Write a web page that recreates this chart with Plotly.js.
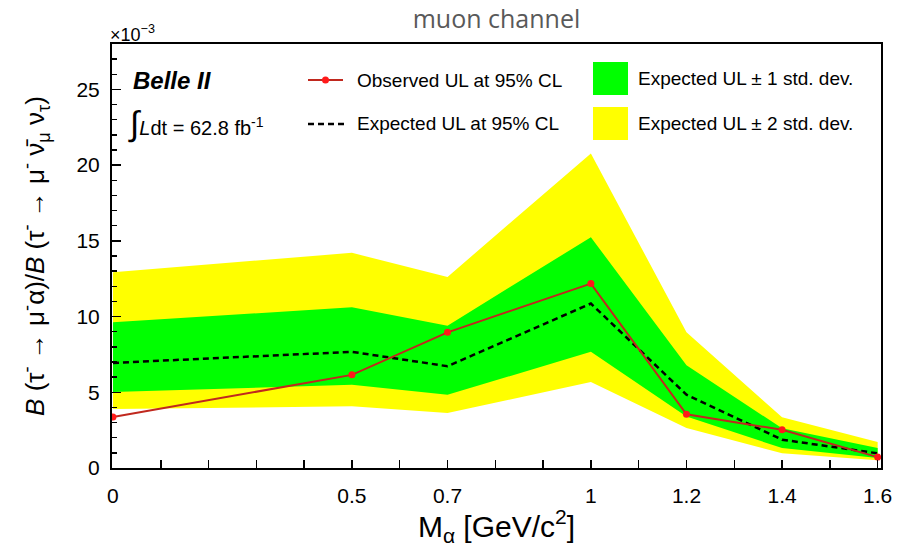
<!DOCTYPE html>
<html>
<head>
<meta charset="utf-8">
<script src="https://cdn.plot.ly/plotly-3.0.1.min.js"></script>
<style>html,body{margin:0;padding:0;background:#fff;}#chart{width:907px;height:547px;}</style>
</head>
<body>
<div id="chart"></div>
<script>
// ---- data (values in units of 1e-3) ----
const mass      = [0, 0.5, 0.7, 1.0, 1.2, 1.4, 1.6];
const observed  = [3.37, 6.15, 8.96, 12.18, 3.55, 2.52, 0.72];
const expected  = [6.94, 7.67, 6.72, 10.86, 4.84, 1.87, 0.97];
const sig1Up    = [9.62, 10.61, 9.40, 15.24, 6.78, 2.62, 1.32];
const sig1Down  = [5.02, 5.50, 4.84, 7.67, 3.40, 1.32, 0.66];
const sig2Up    = [12.93, 14.21, 12.62, 20.77, 8.96, 3.35, 1.72];
const sig2Down  = [3.90, 4.07, 3.63, 5.68, 2.64, 0.98, 0.52];

const xTickVals = [0, 0.5, 0.7, 1.0, 1.2, 1.4, 1.6];
const xTickText = ['0', '0.5', '0.7', '1', '1.2', '1.4', '1.6'];

const legendLabels = ['Observed UL at 95% CL', 'Expected UL at 95% CL',
                      'Expected UL \u00b1 1 std. dev.', 'Expected UL \u00b1 2 std. dev.'];

// ---- styles ----
const FONT = 'Liberation Sans, Arial, sans-serif';
const GREEN = '#00ff00', YELLOW = '#ffff00', RED = '#ff1a1a', REDLINE = '#c0281e';

const traces = [
  {x: mass, y: sig2Down, mode: 'lines', line: {width: 0, color: YELLOW}, showlegend: false, hoverinfo: 'skip'},
  {x: mass, y: sig2Up, mode: 'lines', line: {width: 0, color: YELLOW}, fill: 'tonexty', fillcolor: YELLOW,
   name: legendLabels[3], showlegend: false},
  {x: mass, y: sig1Down, mode: 'lines', line: {width: 0, color: GREEN}, showlegend: false, hoverinfo: 'skip'},
  {x: mass, y: sig1Up, mode: 'lines', line: {width: 0, color: GREEN}, fill: 'tonexty', fillcolor: GREEN,
   name: legendLabels[2], showlegend: false},
  {x: mass, y: expected, mode: 'lines', line: {color: '#000', width: 2.5, dash: '6px,4px'},
   name: legendLabels[1], showlegend: false},
  {x: mass, y: observed, mode: 'lines+markers', line: {color: REDLINE, width: 2},
   marker: {color: RED, size: 7}, name: legendLabels[0], showlegend: false}
];

// plot area in pixels: x 112..881, y 44..468
const L = 112, R = 881, T = 44, B = 468;
const px = v => (v - L) / (R - L);
const py = v => (B - v) / (B - T);

const legFont = {family: FONT, size: 19, color: '#000'};
const shapes = [
  {type: 'line', xref: 'paper', yref: 'paper', x0: px(308), x1: px(343), y0: py(80), y1: py(80),
   line: {color: REDLINE, width: 2}},
  {type: 'circle', xref: 'paper', yref: 'paper', x0: px(322), x1: px(329), y0: py(83.5), y1: py(76.5),
   fillcolor: RED, line: {color: RED, width: 0}},
  {type: 'line', xref: 'paper', yref: 'paper', x0: px(308), x1: px(345), y0: py(124), y1: py(124),
   line: {color: '#000', width: 2.5, dash: '6px,4px'}},
  {type: 'rect', xref: 'paper', yref: 'paper', x0: px(593), x1: px(628), y0: py(95), y1: py(62),
   fillcolor: GREEN, line: {width: 0}},
  {type: 'rect', xref: 'paper', yref: 'paper', x0: px(593), x1: px(628), y0: py(140), y1: py(107),
   fillcolor: YELLOW, line: {width: 0}}
];

const annotations = [
  {text: '\u00d710<sup>\u22123</sup>', xref: 'paper', yref: 'paper', x: px(108), y: py(33),
   xanchor: 'left', yanchor: 'middle', showarrow: false, font: {family: FONT, size: 18, color: '#000'}},
  {text: '<b><i>Belle II</i></b>', xref: 'paper', yref: 'paper', x: px(131), y: py(80),
   xanchor: 'left', yanchor: 'middle', showarrow: false, font: {family: FONT, size: 24, color: '#000'}},
  {text: '<span style="font-size:34px">\u222b</span><i>L</i>dt = 62.8 fb<sup>-1</sup>', xref: 'paper', yref: 'paper',
   x: px(126), y: py(124), xanchor: 'left', yanchor: 'middle', showarrow: false,
   font: {family: FONT, size: 20, color: '#000'}},
  {text: legendLabels[0], xref: 'paper', yref: 'paper', x: px(355), y: py(80), xanchor: 'left', yanchor: 'middle',
   showarrow: false, font: legFont},
  {text: legendLabels[1], xref: 'paper', yref: 'paper', x: px(355), y: py(124), xanchor: 'left', yanchor: 'middle',
   showarrow: false, font: legFont},
  {text: legendLabels[2], xref: 'paper', yref: 'paper', x: px(636), y: py(79), xanchor: 'left', yanchor: 'middle',
   showarrow: false, font: legFont},
  {text: legendLabels[3], xref: 'paper', yref: 'paper', x: px(636), y: py(124), xanchor: 'left', yanchor: 'middle',
   showarrow: false, font: legFont}
];

const layout = {
  width: 907, height: 547,
  margin: {l: L, r: 907 - R, t: T, b: 547 - B, pad: 0},
  paper_bgcolor: '#fff', plot_bgcolor: '#fff',
  font: {family: FONT, color: '#000'},
  title: {text: 'muon channel', font: {family: 'Open Sans, sans-serif', size: 25, color: '#595959'},
          x: 0.5, xref: 'paper', xanchor: 'center', y: 1 - 19 / 547, yref: 'container', yanchor: 'middle'},
  xaxis: {
    range: [-0.002, 1.607], tickmode: 'array', tickvals: xTickVals, ticktext: xTickText,
    ticks: 'inside', ticklen: 8, tickwidth: 1.5, tickcolor: '#000',
    minor: {tick0: 0, dtick: 0.1, ticks: 'inside', ticklen: 8, tickwidth: 1.5, tickcolor: '#000', showgrid: false},
    showline: true, mirror: true, linecolor: '#000', linewidth: 2,
    showgrid: false, zeroline: false, tickfont: {family: FONT, size: 21, color: '#000'},
    ticklabelstandoff: 8,
    title: {text: 'M<sub>\u03b1</sub> [GeV/c<sup>2</sup>]', font: {family: FONT, size: 30, color: '#000'}, standoff: 8}
  },
  yaxis: {
    range: [0, 28], tickmode: 'linear', tick0: 0, dtick: 5,
    ticks: 'inside', ticklen: 9, tickwidth: 1.5, tickcolor: '#000',
    minor: {tick0: 0, dtick: 1, ticks: 'inside', ticklen: 5, tickwidth: 1.5, tickcolor: '#000', showgrid: false},
    showline: true, mirror: true, linecolor: '#000', linewidth: 2,
    showgrid: false, zeroline: false, tickfont: {family: FONT, size: 21, color: '#000'},
    ticklabelstandoff: 6,
    title: {text: '<i>B</i> (\u03c4<sup>-</sup> \u2192 \u03bc<sup>-</sup>\u03b1)/<i>B</i> (\u03c4<sup>-</sup> \u2192 \u03bc<sup>-</sup> \u03bd\u0304<sub>\u03bc</sub> \u03bd<sub>\u03c4</sub>)',
            font: {family: FONT, size: 26, color: '#000'}, standoff: 24}
  },
  shapes: shapes,
  annotations: annotations,
  showlegend: false
};

Plotly.newPlot('chart', traces, layout, {displayModeBar: false, staticPlot: true});
</script>
</body>
</html>
